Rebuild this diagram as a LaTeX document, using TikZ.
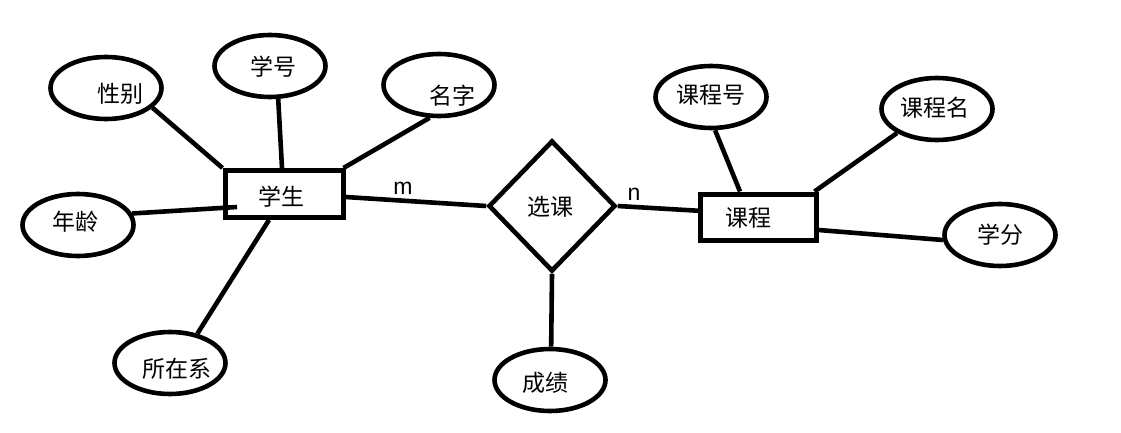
\documentclass[tikz,border=0pt]{standalone}
\usepackage{fontspec}
\setmainfont{Liberation Sans}
\newfontfamily\cjk{Noto Sans CJK SC}
\usetikzlibrary{shapes.geometric}
\begin{document}
\begin{tikzpicture}[x=1pt,y=-1pt,
  attr/.style={ellipse,draw,line width=4.6pt,minimum width=111pt,minimum height=62pt,inner sep=0pt},
  entity/.style={rectangle,draw,line width=5pt,minimum width=118pt,minimum height=47pt,inner sep=0pt},
  rel/.style={diamond,draw,line width=4.6pt,minimum width=127pt,minimum height=131pt,inner sep=0pt,aspect=1},
  lbl/.style={font=\cjk\fontsize{23}{25}\selectfont,inner sep=0pt},
  card/.style={font=\fontsize{23}{26}\selectfont,inner sep=0pt},
  conn/.style={line width=4.6pt}]
\useasboundingbox[fill=white] (0,0) rectangle (1121,433);
% entities and relation
\node[entity] (xs) at (284,194) {};
\node[entity,minimum width=116pt,minimum height=46pt] (kc) at (758,217) {};
\node[rel] (xk) at (552,206) {};
% attributes
\node[attr] (xb) at (106,88) {};
\node[attr] (xh) at (270,66) {};
\node[attr] (mz) at (439,85) {};
\node[attr] (nl) at (78,225) {};
\node[attr] (szx) at (170,363) {};
\node[attr] (cj) at (550,380) {};
\node[attr] (kch) at (711,97) {};
\node[attr] (kcm) at (937,109) {};
\node[attr] (xf) at (1000,235) {};
% texts
\node[lbl] (txs) at (281,197) {学生};
\node[lbl] (tkc) at (748,218) {课程};
\node[lbl] (txk) at (550,207) {选课};
\node[lbl] (txb) at (120,94) {性别};
\node[lbl] (txh) at (273,67) {学号};
\node[lbl] (tmz) at (452,96) {名字};
\node[lbl] (tnl) at (75,222) {年龄};
\node[lbl] (tszx) at (177,369) {所在系};
\node[lbl] (tcj) at (545,383) {成绩};
\node[lbl] (tkch) at (711,95) {课程号};
\node[lbl] (tkcm) at (935,108) {课程名};
\node[lbl] (txf) at (1000,235) {学分};
\node[card] (m) at (403,188) {m};
\node[card] (n) at (634,194) {n};
% connectors
\draw[conn] (xb.-23) -- (xs.north west);
\draw[conn] (xh.-76) -- ([xshift=-2pt]xs.north);
\draw[conn] (mz.-106) -- ([xshift=-2pt]xs.north east);
\draw[conn] (nl.12) -- ([xshift=-47pt,yshift=-13pt]xs.center);
\draw[conn] (szx.47) -- ([xshift=-15pt]xs.south);
\draw[conn] ([yshift=-3pt]xs.east) -- (xk.west);
\draw[conn] (xk.east) -- ([xshift=5pt,yshift=6pt]kc.west);
\draw[conn] (xk.south) -- (cj.88);
\draw[conn] (kch.-83) -- ([xshift=-18pt]kc.north);
\draw[conn] (kcm.-149) -- ([xshift=-4pt]kc.north east);
\draw[conn] ([yshift=-13pt]kc.east) -- (xf.185);
\end{tikzpicture}
\end{document}
